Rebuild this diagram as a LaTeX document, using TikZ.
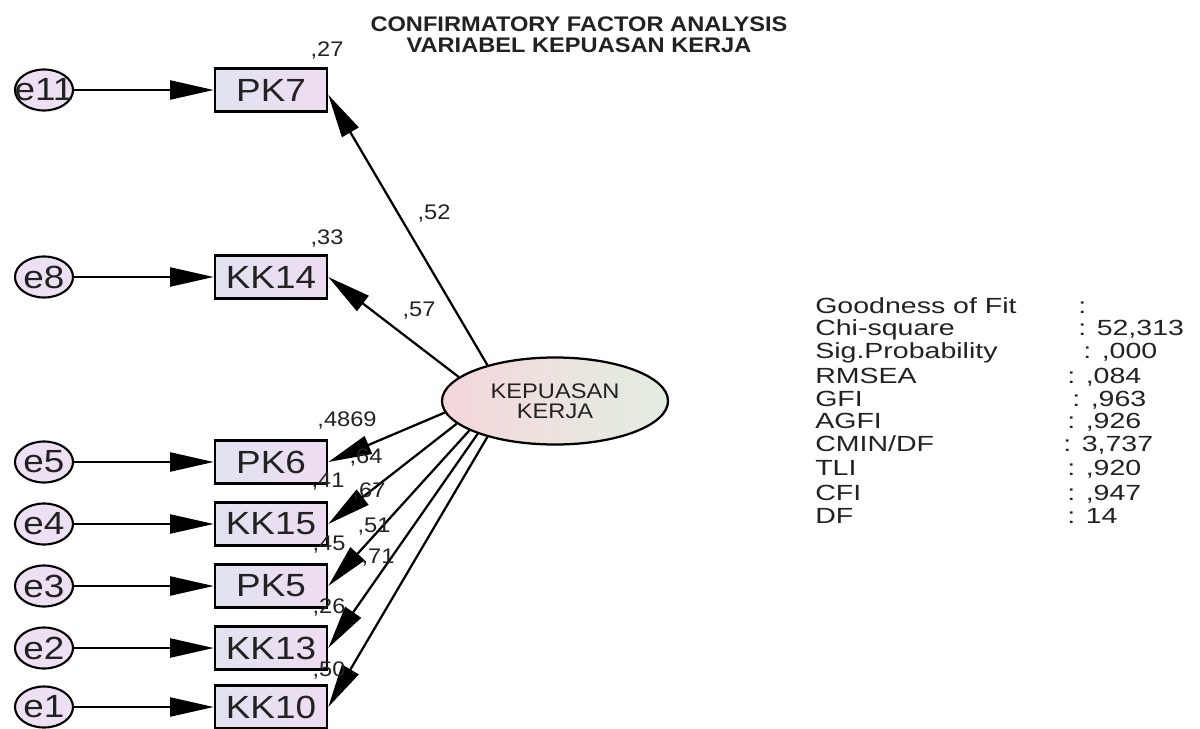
\documentclass[tikz,border=0pt]{standalone}
\usepackage{fontspec}
\setmainfont{Liberation Sans}
\newfontfamily\boxf[FakeStretch=1.15]{Liberation Sans}
\newfontfamily\labf[FakeStretch=1.12]{Liberation Sans}
\newfontfamily\tabf[FakeStretch=1.3]{Liberation Sans}
\usetikzlibrary{arrows.meta,shapes.geometric}
\definecolor{boxL}{HTML}{E2E3F1}
\definecolor{boxR}{HTML}{EEDCF1}
\definecolor{errF}{HTML}{EDE0F2}
\definecolor{latL}{HTML}{F5D6DA}
\definecolor{latR}{HTML}{E2EEE2}
\definecolor{txt}{HTML}{222222}
\begin{document}
\begin{tikzpicture}[x=0.025cm,y=-0.025cm,
  obs/.style={draw=black,line width=1.8pt,left color=boxL,right color=boxR,minimum width=2.8cm,minimum height=1.075cm,inner sep=0pt,font=\boxf\fontsize{22.8}{24}\selectfont,text=txt},
  err/.style={ellipse,draw=black,line width=1.5pt,fill=errF,minimum width=1.45cm,minimum height=1.025cm,inner sep=0pt,font=\boxf\fontsize{22.8}{24}\selectfont,text=txt},
  lat/.style={ellipse,draw=black,line width=1.6pt,left color=latL,right color=latR,minimum width=5.65cm,minimum height=2.175cm,inner sep=0pt,align=center,font=\labf\fontsize{15}{14.5}\selectfont,text=txt},
  lbl/.style={inner sep=0pt,font=\labf\fontsize{15}{16}\selectfont,text=txt},
  tab/.style={inner sep=0pt,anchor=base west,font=\tabf\fontsize{15.6}{16}\selectfont,text=txt},
  ttl/.style={inner sep=0pt,anchor=base,font=\labf\bfseries\fontsize{15}{16}\selectfont,text=txt},
  arr/.style={line width=1.6pt,-{Triangle[length=31pt,width=13.5pt]}}]
\useasboundingbox[fill=white] (0,0) rectangle (1200,728);

% title
\node[ttl] (t1) at (579,31.5) {CONFIRMATORY FACTOR ANALYSIS};
\node[ttl] (t2) at (579,52.5) {VARIABEL KEPUASAN KERJA};

% latent
\node[lat] (F) at (555,401) {KEPUASAN\\KERJA};

% observed
\node[obs] (PK7)  at (271,90)  {PK7};
\node[obs] (KK14) at (271,277) {KK14};
\node[obs] (PK6)  at (271,462) {PK6};
\node[obs] (KK15) at (271,524) {KK15};
\node[obs] (PK5)  at (271,586) {PK5};
\node[obs] (KK13) at (271,648) {KK13};
\node[obs] (KK10) at (271,707) {KK10};

% errors
\node[err] (e11) at (44,90)  {\makebox[0pt]{e11}};
\node[err] (e8)  at (44,277) {\makebox[0pt]{e8}};
\node[err] (e5)  at (44,462) {\makebox[0pt]{e5}};
\node[err] (e4)  at (44,524) {\makebox[0pt]{e4}};
\node[err] (e3)  at (44,586) {\makebox[0pt]{e3}};
\node[err] (e2)  at (44,648) {\makebox[0pt]{e2}};
\node[err] (e1)  at (44,707) {\makebox[0pt]{e1}};

% error arrows
\draw[arr] (e11) -- (PK7);
\draw[arr] (e8) -- (KK14);
\draw[arr] (e5) -- (PK6);
\draw[arr] (e4) -- (KK15);
\draw[arr] (e3) -- (PK5);
\draw[arr] (e2) -- (KK13);
\draw[arr] (e1) -- (KK10);

% loadings
\draw[arr] (F.152.5) -- ([yshift=-0.12cm]PK7.east);
\draw[arr] (F.166.5) -- (KK14.east);
\draw[arr] (F.186) -- (PK6.east);
\draw[arr] (F.193.5) -- (KK15.east);
\draw[arr] (F.199.4) -- (PK5.east);
\draw[arr] (F.203.5) -- (KK13.east);
\draw[arr] (F.208) -- (KK10.east);

% labels
\node[lbl] (l27) at (327,50) {,27};
\node[lbl] (l33) at (327,238) {,33};
\node[lbl] (l52) at (434,213) {,52};
\node[lbl] (l57) at (419,311) {,57};
\node[lbl] (l4869) at (347,420) {,4869};
\node[lbl] (l64) at (366,457) {,64};
\node[lbl] (l41) at (328,482) {,41};
\node[lbl] (l67) at (369,491) {,67};
\node[lbl] (l51) at (374,527) {,51};
\node[lbl] (l45) at (329,545) {,45};
\node[lbl] (l71) at (378,558) {,71};
\node[lbl] (l26) at (329,607) {,26};
\node[lbl] (l50) at (329,670) {,50};

% fit table
\node[tab] (g1) at (815,313) {Goodness of Fit};
\node[tab] (g1v) at (1078,313) {:};
\node[tab] (g2) at (815,335) {Chi-square};
\node[tab] (g2v) at (1078,335) {: 52,313};
\node[tab] (g3) at (815,358) {Sig.Probability};
\node[tab] (g3v) at (1083,358) {: ,000};
\node[tab] (g4) at (815,383) {RMSEA};
\node[tab] (g4v) at (1067,383) {: ,084};
\node[tab] (g5) at (815,406) {GFI};
\node[tab] (g5v) at (1072,406) {: ,963};
\node[tab] (g6) at (815,428) {AGFI};
\node[tab] (g6v) at (1067,428) {: ,926};
\node[tab] (g7) at (815,451) {CMIN/DF};
\node[tab] (g7v) at (1063,451) {: 3,737};
\node[tab] (g8) at (815,475) {TLI};
\node[tab] (g8v) at (1067,475) {: ,920};
\node[tab] (g9) at (815,500) {CFI};
\node[tab] (g9v) at (1067,500) {: ,947};
\node[tab] (g10) at (815,523) {DF};
\node[tab] (g10v) at (1067,523) {: 14};
\end{tikzpicture}
\end{document}
